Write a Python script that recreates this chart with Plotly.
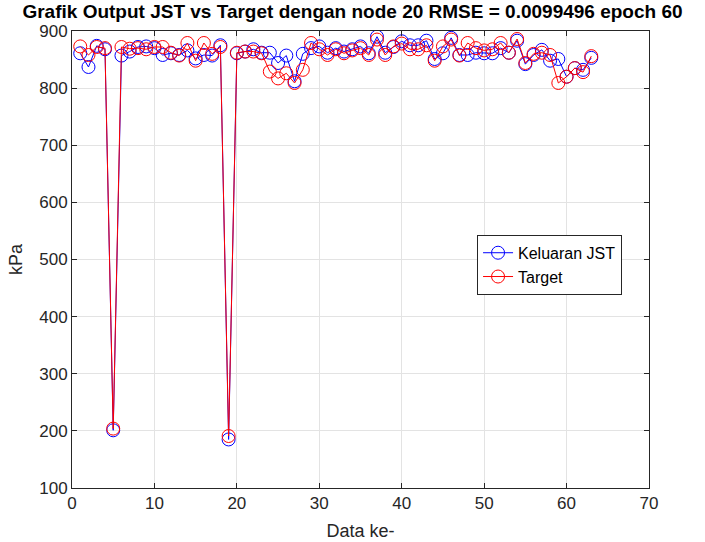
import plotly.graph_objects as go

x_data = list(range(1, 64))
keluaran_jst = [861, 837, 874, 868, 201, 857, 864, 872, 873, 870,
                858, 861, 858, 866, 852, 858, 857, 875, 185, 861,
                864, 868, 862, 862, 844, 857, 812, 860, 870, 873,
                862, 870, 864, 868, 873, 861, 890, 862, 872, 882,
                875, 875, 883, 851, 861, 888, 858, 858, 862, 861,
                861, 870, 862, 883, 842, 858, 867, 848, 851, 820,
                835, 832, 853]
target = [873, 858, 872, 870, 204, 872, 869, 870, 868, 872,
          872, 862, 857, 879, 848, 879, 860, 872, 191, 862,
          864, 864, 861, 829, 817, 826, 809, 832, 879, 868,
          858, 868, 861, 866, 870, 858, 885, 858, 873, 878,
          868, 868, 875, 848, 873, 885, 857, 879, 870, 866,
          868, 879, 862, 886, 844, 860, 862, 858, 809, 820,
          835, 828, 856]

x_ticks = [0, 10, 20, 30, 40, 50, 60, 70]
y_ticks = [100, 200, 300, 400, 500, 600, 700, 800, 900]

font_family = "Liberation Sans, Arial, Helvetica, sans-serif"

fig = go.Figure()
fig.add_trace(go.Scatter(
    x=x_data, y=keluaran_jst, mode="lines+markers", name="Keluaran JST",
    line=dict(color="rgb(0,0,255)", width=1),
    marker=dict(symbol="circle-open", size=13, color="rgb(0,0,255)",
                line=dict(width=1, color="rgb(0,0,255)")),
))
fig.add_trace(go.Scatter(
    x=x_data, y=target, mode="lines+markers", name="Target",
    line=dict(color="rgb(255,0,0)", width=1),
    marker=dict(symbol="circle-open", size=13, color="rgb(255,0,0)",
                line=dict(width=1, color="rgb(255,0,0)")),
))

axis_common = dict(
    showline=True, linecolor="#262626", linewidth=1, mirror="ticks",
    ticks="inside", ticklen=5, tickcolor="#262626",
    showgrid=True, gridcolor="#e3e3e3", gridwidth=1,
    zeroline=False, automargin=False,
    tickfont=dict(family=font_family, size=17, color="#262626"),
)

fig.update_layout(
    width=705, height=542,
    margin=dict(l=72, r=56, t=31, b=54),
    paper_bgcolor="white", plot_bgcolor="white",
    title=dict(text="<b>Grafik Output JST vs Target dengan node 20 RMSE = 0.0099496 epoch 60</b>",
               x=0.5, xanchor="center", y=0.979, yanchor="middle",
               font=dict(family=font_family, size=19, color="black")),
    xaxis=dict(range=[0, 70], tickvals=x_ticks,
               title=dict(text="Data ke-", standoff=11,
                          font=dict(family=font_family, size=18, color="#262626")),
               **axis_common),
    yaxis=dict(range=[100, 900], tickvals=y_ticks,
               title=dict(text="kPa", standoff=11,
                          font=dict(family=font_family, size=18, color="#262626")),
               **axis_common),
    legend=dict(x=0.702, y=0.554, xanchor="left", yanchor="top",
                bgcolor="white", bordercolor="#262626", borderwidth=1,
                font=dict(family=font_family, size=16, color="black"),
                tracegroupgap=0),
    showlegend=True,
)

fig.write_html("out.html")
